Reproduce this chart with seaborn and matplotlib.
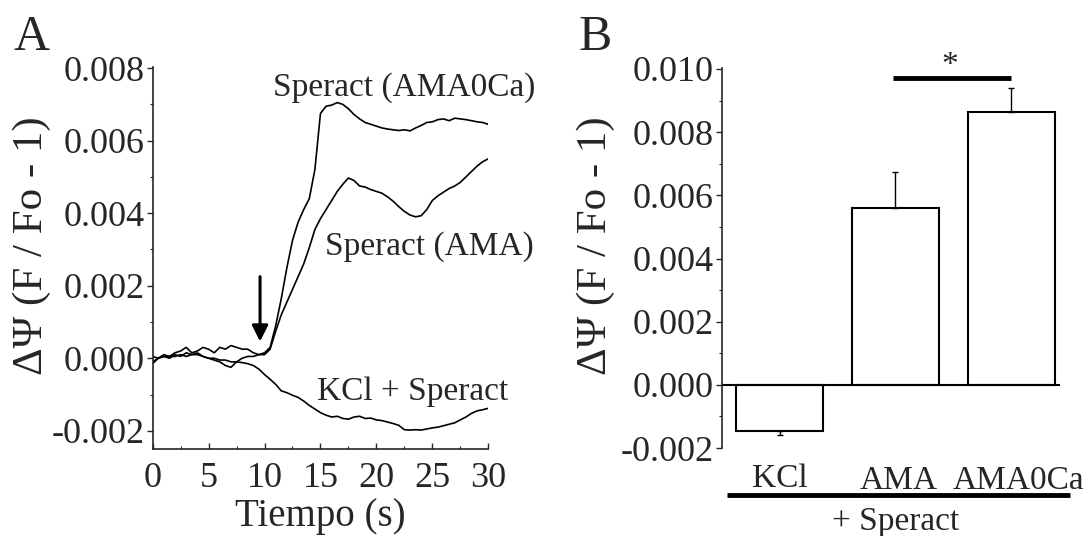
import numpy as np
import pandas as pd
import matplotlib
matplotlib.use('Agg')
import matplotlib.pyplot as plt
import seaborn as sns
from matplotlib.ticker import MultipleLocator, FormatStrFormatter

# ---- data ----
# panel A: traces sampled every 0.5 s, values in units of 1e-3
time_s = [i * 0.5 for i in range(61)]

ama0ca = [0.05, 0.00, 0.10, 0.05, 0.15, 0.20, 0.30, 0.15, 0.20, 0.30,
          0.25, 0.15, 0.30, 0.25, 0.35, 0.30, 0.25, 0.25, 0.15, 0.10,
          0.15, 0.30, 0.90, 1.65, 2.50, 3.25, 3.75, 4.10, 4.40, 5.20,
          6.75, 6.95, 6.98, 7.05, 7.00, 6.88, 6.72, 6.60, 6.50, 6.45,
          6.40, 6.35, 6.32, 6.30, 6.28, 6.30, 6.27, 6.35, 6.42, 6.50,
          6.52, 6.58, 6.60, 6.55, 6.62, 6.60, 6.58, 6.55, 6.52, 6.50,
          6.45]

ama = [-0.15, 0.00, 0.05, 0.00, 0.10, 0.05, 0.15, 0.10, 0.15, 0.05,
       0.00, -0.05, -0.10, -0.20, -0.25, -0.10, 0.00, 0.05, 0.05, 0.10,
       0.10, 0.25, 0.75, 1.20, 1.55, 1.90, 2.25, 2.60, 3.05, 3.55,
       3.85, 4.10, 4.35, 4.60, 4.80, 4.97, 4.90, 4.75, 4.72, 4.65,
       4.60, 4.55, 4.45, 4.33, 4.18, 4.05, 3.95, 3.90, 3.93, 4.10,
       4.35, 4.48, 4.58, 4.68, 4.75, 4.85, 5.00, 5.15, 5.30, 5.42,
       5.50]

kcl = [-0.10, 0.00, 0.05, 0.05, 0.05, 0.10, 0.05, 0.10, 0.10, 0.05,
       0.00, 0.00, -0.05, -0.05, -0.10, -0.10, -0.12, -0.15, -0.20, -0.30,
       -0.45, -0.58, -0.72, -0.90, -0.95, -1.02, -1.08, -1.18, -1.30, -1.40,
       -1.50, -1.57, -1.62, -1.60, -1.66, -1.68, -1.62, -1.60, -1.66, -1.65,
       -1.70, -1.72, -1.76, -1.80, -1.85, -1.97, -1.98, -1.97, -1.98, -1.95,
       -1.92, -1.90, -1.86, -1.82, -1.78, -1.70, -1.62, -1.52, -1.45, -1.42,
       -1.38]

trace_names = ['Speract (AMA0Ca)', 'Speract (AMA)', 'KCl + Speract']

# panel B: bar means and error (upper / lower), units of 1e-3
conditions = ['KCl', 'AMA', 'AMA0Ca']
means = [-1.46, 5.60, 8.63]
err_up = [0.00, 1.13, 0.76]
err_down = [0.14, 0.00, 0.00]

SCALE = 1e-3

# ---- style ----
sns.set_style('ticks')
plt.rcParams['font.family'] = ['Liberation Serif', 'DejaVu Serif']
plt.rcParams['axes.unicode_minus'] = False
plt.rcParams['axes.linewidth'] = 1.2

fig = plt.figure(figsize=(10.88, 5.36), dpi=100)
axA = fig.add_axes([0.1403, 0.1618, 0.3085, 0.7138])
axB = fig.add_axes([0.6633, 0.1640, 0.3107, 0.7086])

ylab = '\u0394\u03a8 (F / Fo - 1)'

# ---- panel A ----
traces = pd.DataFrame({
    'time': time_s * 3,
    'value': [v * SCALE for v in ama0ca + ama + kcl],
    'trace': [n for n in trace_names for _ in time_s],
})
sns.lineplot(data=traces, x='time', y='value', hue='trace',
             palette=['black'] * 3, linewidth=1.2, legend=False, ax=axA)

axA.set_xlim(0, 30)
axA.set_ylim(-0.00251, 0.00804)
axA.xaxis.set_major_locator(MultipleLocator(5))
axA.xaxis.set_minor_locator(MultipleLocator(2.5))
axA.yaxis.set_major_locator(MultipleLocator(0.002))
axA.yaxis.set_minor_locator(MultipleLocator(0.001))
axA.yaxis.set_major_formatter(FormatStrFormatter('%.3f'))
sns.despine(ax=axA)
axA.tick_params(axis='y', which='major', direction='out', length=4, width=1, pad=2, labelsize=26)
axA.tick_params(axis='y', which='minor', direction='out', length=2.5, width=0.8)
axA.tick_params(axis='x', which='major', direction='in', length=4, width=1, pad=9, labelsize=26)
axA.tick_params(axis='x', which='minor', direction='in', length=2.5, width=0.8)
axA.set_xlabel('Tiempo (s)', fontsize=28, labelpad=2)
axA.set_ylabel(ylab, fontsize=31)
axA.yaxis.set_label_coords(-0.303, 0.532)

axA.text(10.78, 0.00723, trace_names[0], fontsize=24)
axA.text(15.4, 0.00285, trace_names[1], fontsize=24)
axA.text(14.66, -0.00115, trace_names[2], fontsize=24)
axA.annotate('', xy=(9.6, 0.00046), xytext=(9.6, 0.00225),
             arrowprops=dict(arrowstyle='-|>', lw=2.2, color='black',
                             mutation_scale=24, shrinkA=0, shrinkB=0))

# ---- panel B ----
bars = pd.DataFrame({'condition': conditions, 'mean': [m * SCALE for m in means]})
sns.barplot(data=bars, x='condition', y='mean', color='white', edgecolor='black',
            linewidth=1.5, width=0.75, errorbar=None, ax=axB)
axB.errorbar(range(len(conditions)), bars['mean'],
             yerr=[[e * SCALE for e in err_down], [e * SCALE for e in err_up]],
             fmt='none', ecolor='black', elinewidth=1, capsize=2, capthick=1)

axB.set_xlim(-0.5, 2.42)
axB.set_ylim(-0.002, 0.01002)
axB.axhline(0, color='black', lw=1.5)
axB.yaxis.set_major_locator(MultipleLocator(0.002))
axB.yaxis.set_minor_locator(MultipleLocator(0.001))
axB.yaxis.set_major_formatter(FormatStrFormatter('%.3f'))
sns.despine(ax=axB, bottom=True)
axB.set_xticks([])
axB.set_xlabel('')
axB.tick_params(axis='y', which='major', direction='out', length=4, width=1, pad=2, labelsize=26)
axB.tick_params(axis='y', which='minor', direction='out', length=2.5, width=0.8)
axB.set_ylabel(ylab, fontsize=31)
axB.yaxis.set_label_coords(-0.316, 0.532)

# significance bar
axB.plot([0.98, 2.0], [0.00970, 0.00970], color='black', lw=3.5, solid_capstyle='butt')
axB.text(1.47, 0.0101, '*', fontsize=24, ha='center', va='center')

# category labels and "+ Speract" bracket
label_x = [0.0, 1.03, 2.06]
label_y = [-0.00322, -0.00330, -0.00330]
for name, lx, ly in zip(conditions, label_x, label_y):
    axB.text(lx, ly, name, fontsize=24, ha='center', va='baseline', clip_on=False)
axB.plot([-0.457, 2.51], [-0.00348, -0.00348], color='black', lw=3.5,
         solid_capstyle='butt', clip_on=False)
axB.text(1.0, -0.00432, '+ Speract', fontsize=24, ha='center', va='center', clip_on=False)

# panel letters
fig.text(14 / 1088, 1 - 50 / 536, 'A', fontsize=36, va='baseline')
fig.text(579 / 1088, 1 - 50 / 536, 'B', fontsize=36, va='baseline')

fig.savefig('out.png', dpi=100)
